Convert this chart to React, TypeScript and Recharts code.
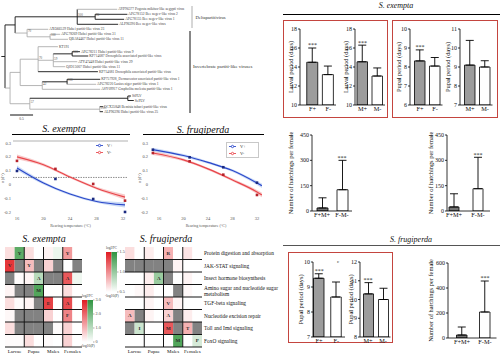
import React from 'react';
import {
  ComposedChart, Bar, Cell, XAxis, YAxis, ErrorBar, ReferenceDot, ReferenceLine,
  ReferenceArea, Line, Area, Scatter, Legend,
} from 'recharts';

const SERIF = '"Liberation Serif", "Times New Roman", serif';

// ================= DATA =================
// --- phylogenetic tree (branch lengths, substitutions/site) ---
const treeIds = ['root','A','H','L1','H2','L2','L3','L4','B','L5','B2','L6','L7','C','D','E','L8','F','G','L9','L10','L11','L12','L13','I','J','L14','L15','L16','K','M','L17','L18','N','L19','L20'];
const treeParents = [null,'root','A','H','H','H2','H2','H','A','B','B','B2','B2','root','C','D','E','E','F','G','G','F','F','E','D','I','J','J','I','C','K','M','M','K','N','N'];
const treeLengths = [0,0.22,1.35,0.87,0.39,0.70,0.63,0.89,0.26,0.46,0.50,0.22,0.39,0.11,0.22,0.39,0.43,0.33,0.41,0.17,0.35,0.52,0.26,1.30,0.48,0.54,0.72,0.63,1.26,0.43,2.13,0.07,0.13,1.52,0.07,0.07];
const treeDark = [1,1,1,0,1,1,1,1,0,0,0,0,0,0,0,0,0,0,1,1,1,0,0,1,0,1,1,0,0,0,1,1,1,0,1,1];
const treeLeafIds = ['L1','L2','L3','L4','L5','L6','L7','L8','L9','L10','L11','L12','L13','L14','L15','L16','L17','L18','L19','L20'];
const treeLeafRows = [9.3,14.3,19.3,24.3,29.3,34.3,39.3,46.7,51.7,56,61.7,66.7,71.7,79.3,84.3,89.3,96,100.5,106.7,111.7];
const treeLeafLabels = [
  'AYP96377 Pogosta mikitus-like aegypti virus',
  'APG78152 Bee negev-like virus 2',
  'APG78155 Bee negev-like virus 1',
  'ALP96390 Bee negev-like virus',
  'AXO66529 Hubei partiti-like virus 23',
  'APG78269 Hubei partiti-like virus 31',
  'QBA84467 Hubei partiti-like virus 11',
  'KT191',
  'APG78211 Hubei partiti-like virus 9',
  'KP714087 Drosophila associated partiti-like virus',
  'ATY47448 Hubei partiti-like virus 29',
  'QJD15007 Hubei partiti-like virus 11',
  'KP714081 Drosophila associated partiti-like virus',
  'KP757928_Dermacentor associated partiti-like virus 1',
  'APG78220 Lasius niger partiti-like virus 1',
  'ASY09917 Grapholita molesta partiti-like virus 1',
  'SfPLV',
  'SePLV',
  'QCX35848 Bemisia tabaci partiti-like virus',
  'ALP96396 Hubei partiti-like virus 25',
];
const treeSupportIds = ['H','H2','B','B2','E','F','G','I','J','K','M','N'];
const treeSupportVals = ['100','96','70','100','70','59','100','42','100','57','1','100'];
const cladeNames = ['Deltapartitivirus', 'Invertebrate partiti-like viruses'];

// --- thermal performance curves ---
const tempTicks = [16, 20, 24, 28, 32];
const rTicks = [-0.2, -0.1, 0, 0.1, 0.2, 0.3];
const seriesNames = ['V-', 'V+'];
const exFitX = [16, 20, 24, 28, 32.3];
const exRedFit = [0.199, 0.142, 0.053, -0.028, -0.093];
const exRedLo = [0.182, 0.131, 0.044, -0.038, -0.112];
const exRedHi = [0.216, 0.153, 0.062, -0.018, -0.074];
const exBlueFit = [0.119, 0.01, -0.07, -0.124, -0.149];
const exBlueLo = [0.102, -0.001, -0.079, -0.134, -0.168];
const exBlueHi = [0.136, 0.021, -0.061, -0.114, -0.13];
const exPtX = [16, 21.8, 27.5, 32.3];
const exRedPts = [0.17, 0.112, 0.003, -0.118];
const exBluePts = [0.097, 0.039, -0.106, -0.2];

const sfFitX = [15, 20, 24, 28, 32, 32.8];
const sfRedFit = [0.227, 0.177, 0.112, 0.032, -0.055, -0.077];
const sfRedLo = [0.213, 0.167, 0.103, 0.022, -0.069, -0.093];
const sfRedHi = [0.241, 0.187, 0.121, 0.042, -0.041, -0.061];
const sfBlueFit = [0.252, 0.209, 0.159, 0.1, 0.01, -0.01];
const sfBlueLo = [0.238, 0.199, 0.15, 0.09, -0.004, -0.026];
const sfBlueHi = [0.266, 0.219, 0.168, 0.11, 0.024, 0.006];
const sfPtX = [15, 21, 26.5, 32];
const sfRedPts = [0.227, 0.167, 0.07, -0.077];
const sfBluePts = [0.251, 0.196, 0.124, 0.012];

// --- heatmaps ---
const hmGroups = ['Larvae', 'Pupae', 'Males', 'Females'];
const hmRows = [
  'Protein digestion and absorption',
  'JAK-STAT signaling',
  'Insect hormone biosynthesis',
  'Amino sugar and nucleotide sugar\nmetabolism',
  'TGF-beta signaling',
  'Nucleotide excision repair',
  'Toll and Imd signaling',
  'FoxO signaling',
];
const exemptaHeat = [
  [0.15, -0.8, 0.15, 0, 0.05, -0.1, 0.45, 0],
  [0.9, null, 0.3, null, 0.2, null, 0, null],
  [null, 0.02, 0.05, -0.35, null, null, 0.75, -0.08],
  [0.05, null, null, -0.85, 0, 0, 0.15, 0],
  [0.15, 0.02, 0.05, null, 0.85, 0, 0.8, 0],
  [0.03, null, null, null, 0.2, 0, 0.55, 0],
  [0.15, null, null, null, null, 0.02, 0.2, 0],
  [0.02, 0.02, 0.15, 0, 0.02, 0, 0.2, 0],
];
const exemptaMarks = [
  ['', 'Y', '', '', '', '', 'Y', ''],
  ['V', '', 'Y', '', '', '', '', ''],
  ['', '', '', 'A', '', '', 'A', ''],
  ['', '', '', 'M', '', '', '', ''],
  ['', '', '', '', 'E', '', 'A', ''],
  ['', '', '', '', '', '', 'F', ''],
  ['', '', '', '', '', '', '', ''],
  ['', '', '', '', '', '', '', ''],
];
const frugHeat = [
  [0.15, 0, 0.08, 0, 0.35, 0, 0.12, 0],
  [null, null, null, null, null, 0.05, 0, 0],
  [0, 0, 0.08, -0.5, null, 0, 0.05, 0],
  [0, 0.03, 0.08, 0, 0, null, 0.03, 0],
  [0, 0, 0.05, 0, 0.3, 0.05, 0, 0],
  [0.3, null, 0.05, 0, 0.2, null, 0.08, 0],
  [null, -0.25, 0, 0, 0.75, null, 0.35, null],
  [0, 0, 0, 0, 0, -0.85, 0, -0.2],
];
const frugMarks = [
  ['', '', '', '', 'R', '', '', ''],
  ['', '', '', '', '', '', '', ''],
  ['', '', '', 'A', '', '', '', ''],
  ['', '', '', '', '', '', '', ''],
  ['', '', '', '', 'V', '', '', ''],
  ['A', '', '', '', 'A', '', '', ''],
  ['', 'I', '', '', 'M', '', 'T', ''],
  ['', '', '', '', '', 'M', '', 'P'],
];
const scaleATicks = [0, 1, 2, 3];
const scaleBTicks = [0.5, 1, 1.5];

// --- bar charts ---
const catsF = ['F+', 'F-'];
const catsM = ['M+', 'M-'];
const catsFM = ['F+M+', 'F-M-'];
const exLarvalFMean = [14.5, 13.2];
const exLarvalFSd = [1.5, 0.9];
const exLarvalMMean = [14.55, 13.05];
const exLarvalMSd = [1.75, 0.85];
const exPupalFMean = [8.32, 8.05];
const exPupalFSd = [0.58, 0.45];
const exPupalMMean = [9.1, 9.0];
const exPupalMSd = [1.3, 0.33];
const exHatchAMean = [18, 126];
const exHatchASd = [60, 174];
const exHatchBMean = [24, 132];
const exHatchBSd = [78, 186];
const sfPupalFMean = [9.35, 8.6];
const sfPupalFSd = [0.18, 0.6];
const sfPupalMMean = [10.3, 10.0];
const sfPupalMSd = [0.6, 0.6];
const sfHatchMean = [24, 208];
const sfHatchSd = [64, 248];

// ================= HELPERS =================
const GREY = '#9c9c9c';
const DARKGREY = '#747474';
const RED_BOX = '#c4453f';

const textLabel = (value: string, o: any = {}) => (props: any) => {
  const vb = props.viewBox || { x: 0, y: 0, width: 0, height: 0 };
  const cx = (vb.x || 0) + (vb.width || 0) / 2;
  const cy = (vb.y || 0) + (vb.height || 0) / 2;
  return (
    <text x={cx + (o.dx || 0)} y={cy + (o.dy || 0)} fontSize={o.size || 5} fill={o.fill || '#222'}
      textAnchor={o.anchor || 'start'} dominantBaseline="central" fontFamily={SERIF}
      fontStyle={o.italic ? 'italic' : 'normal'} fontWeight={o.weight || 'normal'}>{value}</text>
  );
};

const yLabelFn = (text: string, fs: number, dx = 4) => (props: any) => {
  const vb = props.viewBox || { x: 0, y: 0, width: 0, height: 0 };
  const x = (vb.x || 0) + dx;
  const y = (vb.y || 0) + (vb.height || 0) / 2;
  return (
    <text x={0} y={0} transform={`translate(${x},${y}) rotate(-90)`} textAnchor="middle"
      dominantBaseline="central" fontSize={fs} fontFamily={SERIF} fill="#111">{text}</text>
  );
};

const Title = ({ x, y, text, size }: any) => (
  <div style={{ position: 'absolute', left: x - 70, top: y - size * 0.65, width: 140, textAlign: 'center',
    fontStyle: 'italic', fontSize: size, lineHeight: `${size * 1.3}px`, fontFamily: SERIF, color: '#111' }}>{text}</div>
);
const HLine = ({ x1, x2, y, color = '#000', w = 1 }: any) => (
  <div style={{ position: 'absolute', left: x1, top: y, width: x2 - x1, height: w, background: color }} />
);
const Box = ({ x, y, w, h }: any) => (
  <div style={{ position: 'absolute', left: x, top: y, width: w, height: h, border: `1px solid ${RED_BOX}`, boxSizing: 'border-box' }} />
);
const SmallText = ({ x, y, text, size = 3.6 }: any) => (
  <div style={{ position: 'absolute', left: x, top: y, fontSize: size, lineHeight: `${size + 1}px`, fontFamily: SERIF, color: '#333', whiteSpace: 'nowrap' }}>{text}</div>
);

// ================= TREE =================
const TREE_PX = 46;
const TREE_W = 272;
const TREE_H = 122;

function TreeChart() {
  const x: Record<string, number> = {};
  const y: Record<string, number> = {};
  const children: Record<string, string[]> = {};
  treeIds.forEach((id, i) => {
    const p = treeParents[i];
    if (p) (children[p] = children[p] || []).push(id);
    x[id] = (p ? x[p] : 0) + treeLengths[i];
  });
  treeLeafIds.forEach((id, i) => { y[id] = treeLeafRows[i]; });
  const getY = (id: string): number => {
    if (y[id] !== undefined) return y[id];
    const ys = children[id].map(getY);
    y[id] = (Math.min(...ys) + Math.max(...ys)) / 2;
    return y[id];
  };
  getY('root');
  const segs: any[] = [];
  treeIds.forEach((id, i) => {
    const p = treeParents[i];
    const dark = treeDark[i] === 1;
    if (p) segs.push({ a: { x: x[p], y: y[id] }, b: { x: x[id], y: y[id] }, dark });
    if (children[id]) {
      const ys = children[id].map((c) => y[c]);
      segs.push({ a: { x: x[id], y: Math.min(...ys) }, b: { x: x[id], y: Math.max(...ys) }, dark });
    }
  });
  segs.push({ a: { x: -0.08, y: y.root }, b: { x: 0, y: y.root }, dark: true });
  const leafData = treeLeafIds.map((id, i) => ({ x: x[id], y: y[id], label: treeLeafLabels[i] }));
  const X0 = -5 / TREE_PX;
  const X1 = X0 + TREE_W / TREE_PX;
  const bx1 = (192 - 5) / TREE_PX;
  const bx2 = (190 - 5) / TREE_PX;
  return (
    <div style={{ position: 'absolute', left: 0, top: 0 }}>
      <ComposedChart width={TREE_W} height={TREE_H} margin={{ top: 0, right: 0, bottom: 0, left: 0 }}>
        <XAxis type="number" dataKey="x" domain={[X0, X1]} allowDataOverflow hide />
        <YAxis type="number" dataKey="y" domain={[0, TREE_H]} allowDataOverflow reversed hide />
        <Scatter data={leafData} shape={() => <g />} isAnimationActive={false} />
        {segs.map((s, i) => (
          <ReferenceLine key={`s${i}`} segment={[s.a, s.b]} stroke={s.dark ? '#111' : '#a3a3a3'} strokeWidth={s.dark ? 0.9 : 0.8} ifOverflow="visible" />
        ))}
        {leafData.map((d, i) => (
          <ReferenceDot key={`l${i}`} x={d.x} y={d.y} r={0} fill="none" stroke="none" ifOverflow="visible"
            label={textLabel(d.label, { dx: 1, size: 3.6, fill: '#444' })} />
        ))}
        {treeSupportIds.map((id, i) => (
          <ReferenceDot key={`b${i}`} x={x[id]} y={y[id]} r={0} fill="none" stroke="none" ifOverflow="visible"
            label={textLabel(treeSupportVals[i], { dx: 0.8, dy: -1.6, size: 3.2, fill: '#555' })} />
        ))}
        <ReferenceLine segment={[{ x: bx1, y: 6 }, { x: bx1, y: 28 }]} stroke="#999" strokeWidth={0.8} ifOverflow="visible" />
        <ReferenceLine segment={[{ x: bx2, y: 31 }, { x: bx2, y: 113 }]} stroke="#111" strokeWidth={1} ifOverflow="visible" />
        <ReferenceDot x={bx1} y={17} r={0} fill="none" stroke="none" ifOverflow="visible" label={textLabel(cladeNames[0], { dx: 3.5, size: 4.6, fill: '#333' })} />
        <ReferenceDot x={bx2} y={66} r={0} fill="none" stroke="none" ifOverflow="visible" label={textLabel(cladeNames[1], { dx: 3, size: 4.8, fill: '#333' })} />
        <ReferenceLine segment={[{ x: 0.11, y: 115 }, { x: 0.61, y: 115 }]} stroke="#111" strokeWidth={1} ifOverflow="visible" />
        <ReferenceDot x={0.36} y={119} r={0} fill="none" stroke="none" ifOverflow="visible" label={textLabel('0.5', { size: 3.6, anchor: 'middle', fill: '#444' })} />
      </ComposedChart>
    </div>
  );
}

// ================= LINE CHARTS =================
const sq = (color: string) => (p: any) => (
  <rect x={p.cx - 1.3} y={p.cy - 1.3} width={2.6} height={2.6} fill={color} />
);

function TempChart(props: any) {
  const { left, top, width, height, yAxisW, rightM, topM, xDomain, yDomain, fitX, redFit, redLo, redHi,
    blueFit, blueLo, blueHi, ptX, redPts, bluePts, topLine, dashY, legendPos, legendBox } = props;
  const redBand = fitX.map((x: number, i: number) => ({ x, band: [redLo[i], redHi[i]] }));
  const blueBand = fitX.map((x: number, i: number) => ({ x, band: [blueLo[i], blueHi[i]] }));
  const redLine = fitX.map((x: number, i: number) => ({ x, y: redFit[i] }));
  const blueLine = fitX.map((x: number, i: number) => ({ x, y: blueFit[i] }));
  const redP = ptX.map((x: number, i: number) => ({ x, y: redPts[i] }));
  const blueP = ptX.map((x: number, i: number) => ({ x, y: bluePts[i] }));
  const tickStyle = { fontSize: 4.5, fill: '#555', fontFamily: SERIF };
  return (
    <div style={{ position: 'absolute', left, top }}>
      <ComposedChart width={width} height={height} margin={{ top: topM, right: rightM, bottom: 0, left: 0 }}>
        <XAxis type="number" dataKey="x" domain={xDomain} ticks={tempTicks} allowDataOverflow axisLine={false}
          tickLine={false} tickSize={0} tickMargin={2} height={15} tick={tickStyle} interval={0}
          label={textLabel('Rearing temperature (°C)', { size: 4, anchor: 'middle', dy: 3, fill: '#555' })} />
        <YAxis type="number" dataKey="y" domain={yDomain} ticks={rTicks} allowDataOverflow width={yAxisW}
          axisLine={false} tickLine={false} tickSize={0} tickMargin={2} tick={tickStyle} interval={0}
          tickFormatter={(v: number) => (v === 0 ? '0' : v.toFixed(1))}
          label={yLabelFn('r (d⁻¹)', 4, 2.5)} />
        {topLine ? <ReferenceLine y={yDomain[1]} stroke="#a8a8a8" strokeWidth={0.9} ifOverflow="visible" /> : null}
        {dashY !== undefined ? <ReferenceLine y={dashY} stroke="#444" strokeWidth={0.6} strokeDasharray="1.5 1" ifOverflow="visible" /> : null}
        <Area data={redBand} dataKey="band" type="monotone" stroke="none" fill="#f5b8b8" fillOpacity={0.75} isAnimationActive={false} legendType="none" />
        <Area data={blueBand} dataKey="band" type="monotone" stroke="none" fill="#b8cdf3" fillOpacity={0.75} isAnimationActive={false} legendType="none" />
        <Line data={redLine} dataKey="y" name={seriesNames[0]} type="monotone" stroke="#e8454a" strokeWidth={1.2} dot={false} isAnimationActive={false} legendType="line" />
        <Line data={blueLine} dataKey="y" name={seriesNames[1]} type="monotone" stroke="#2a47c9" strokeWidth={1.2} dot={false} isAnimationActive={false} legendType="line" />
        <Scatter data={redP} shape={sq('#b5232b')} isAnimationActive={false} legendType="none" />
        <Scatter data={blueP} shape={sq('#1b2a80')} isAnimationActive={false} legendType="none" />
        <Legend layout="vertical" align="center" verticalAlign="middle" iconType="line" iconSize={7}
          wrapperStyle={{ left: legendPos[0], top: legendPos[1], width: 'auto', fontSize: 4.5, lineHeight: '6px', fontFamily: SERIF,
            ...(legendBox ? { border: '0.5px solid #c8c8c8', padding: '0px 2px', background: '#fff' } : {}) }}
          formatter={(v: any) => <span style={{ color: '#333', fontSize: 4.5 }}>{v}</span>} />
      </ComposedChart>
    </div>
  );
}

// ================= HEATMAPS =================
function heatColor(v: number | null) {
  if (v === null) return '#828282';
  const t = Math.min(1, Math.abs(v));
  const base = v >= 0 ? [226, 32, 36] : [52, 150, 62];
  const m = (c: number) => Math.round(255 + (c - 255) * t);
  return `rgb(${m(base[0])},${m(base[1])},${m(base[2])})`;
}

const RowTick = (props: any) => {
  const { x, y, payload } = props;
  const idx = Math.floor(payload.value);
  const lines = (hmRows[idx] || '').split('\n');
  return (
    <text x={x} y={y} fontSize={5.4} fontFamily={SERIF} fill="#111" textAnchor="start">
      {lines.map((l, i) => (
        <tspan key={i} x={x + 1} dy={i === 0 ? (lines.length === 1 ? 1.9 : -1.2) : 6.2}>{l}</tspan>
      ))}
    </text>
  );
};

const GRID_W = 77;
const GRID_H = 100;

function Heatmap({ left, top, values, marks, showRows }: any) {
  const cells: any[] = [];
  values.forEach((row: any[], r: number) => row.forEach((v: any, c: number) => cells.push({ x: c + 0.5, y: r + 0.5, v, m: marks[r][c], r, c })));
  const rightW = showRows ? 82 : 0;
  return (
    <div style={{ position: 'absolute', left, top }}>
      <ComposedChart width={GRID_W + rightW} height={GRID_H + 11} margin={{ top: 0, right: 0, bottom: 0, left: 0 }}>
        <XAxis type="number" dataKey="x" domain={[0, 8]} ticks={[1, 3, 5, 7]} allowDataOverflow interval={0}
          tickFormatter={(v: number) => hmGroups[(v - 1) / 2]} height={11} tickLine={false}
          axisLine={{ stroke: '#000', strokeWidth: 0.9 }} tick={{ fontSize: 5, fontFamily: SERIF, fill: '#111' }} tickSize={0} tickMargin={2} />
        <YAxis type="number" dataKey="y" domain={[0, 8]} reversed allowDataOverflow hide={!showRows} orientation="right"
          width={rightW} ticks={[0.5, 1.5, 2.5, 3.5, 4.5, 5.5, 6.5, 7.5]} tick={<RowTick />} axisLine={false}
          tickLine={false} tickSize={0} tickMargin={1} interval={0} />
        <Scatter data={cells} shape={() => <g />} isAnimationActive={false} />
        {cells.map((cell, i) => (
          <ReferenceArea key={`c${i}`} x1={cell.c} x2={cell.c + 1} y1={cell.r} y2={cell.r + 1} fill={heatColor(cell.v)}
            fillOpacity={1} stroke="none" ifOverflow="visible"
            label={cell.m ? textLabel(cell.m, { size: 5, anchor: 'middle', fill: '#2a2a2a', weight: 'bold' }) : undefined} />
        ))}
        {[1, 2, 3, 4, 5, 6, 7].map((yy) => (
          <ReferenceLine key={`h${yy}`} y={yy} stroke="#151515" strokeWidth={1} ifOverflow="visible" />
        ))}
        {[2, 4, 6].map((xx) => (
          <ReferenceLine key={`v${xx}`} x={xx} stroke="#151515" strokeWidth={1} ifOverflow="visible" />
        ))}
      </ComposedChart>
    </div>
  );
}

function ColorScale({ left, top, height, id, ticks }: any) {
  const dom = [ticks[0], ticks[ticks.length - 1]];
  return (
    <div style={{ position: 'absolute', left, top: top - 4 }}>
      <ComposedChart width={11 + 22} height={height + 8} margin={{ top: 4, right: 0, bottom: 4, left: 0 }}>
        <defs>
          <linearGradient id={`${id}r`} x1="0" y1="0" x2="0" y2="1">
            <stop offset="0%" stopColor="#e01b22" />
            <stop offset="100%" stopColor="#ffffff" />
          </linearGradient>
          <linearGradient id={`${id}g`} x1="0" y1="0" x2="0" y2="1">
            <stop offset="0%" stopColor="#2f9440" />
            <stop offset="100%" stopColor="#ffffff" />
          </linearGradient>
        </defs>
        <XAxis type="number" dataKey="x" domain={[0, 2]} allowDataOverflow hide />
        <YAxis type="number" dataKey="y" domain={dom} ticks={ticks} allowDataOverflow orientation="right" width={22}
          axisLine={false} tickLine={{ stroke: '#555', strokeWidth: 0.5 }} tickSize={1.5} tickMargin={1} interval={0}
          tick={{ fontSize: 4.2, fill: '#444', fontFamily: SERIF }} tickFormatter={(v: number) => (v === 0 ? '0' : v.toFixed(1))} />
        <Scatter data={[{ x: 0, y: dom[0] }]} shape={() => <g />} isAnimationActive={false} />
        <ReferenceArea x1={0} x2={1} y1={dom[0]} y2={dom[1]} fill={`url(#${id}r)`} fillOpacity={1} stroke="none" ifOverflow="visible" />
        <ReferenceArea x1={1} x2={2} y1={dom[0]} y2={dom[1]} fill={`url(#${id}g)`} fillOpacity={1} stroke="none" ifOverflow="visible" />
      </ComposedChart>
    </div>
  );
}

// ================= BAR PANELS =================
function BarPanel(p: any) {
  const left = p.labelX - 4;
  const mTop = 9;
  const xAxisH = 11;
  const width = p.right - left + 1;
  const height = p.bottom - p.top + mTop + xAxisH;
  const data = p.cats.map((c: string, i: number) => ({ name: c, mean: p.means[i], err: [0, p.errs[i]] }));
  return (
    <div style={{ position: 'absolute', left, top: p.top - mTop }}>
      <ComposedChart width={width} height={height} data={data} margin={{ top: mTop, right: 1, bottom: 0, left: 0 }}>
        <XAxis dataKey="name" type="category" height={xAxisH} padding={{ left: p.padL, right: 0 }} tickLine={false}
          axisLine={{ stroke: '#000', strokeWidth: 0.8 }} tick={{ fontSize: 6.3, fill: '#111', fontFamily: SERIF }}
          tickSize={0} tickMargin={2} interval={0} />
        <YAxis type="number" width={p.axisX - left} domain={p.domain} ticks={p.ticks} allowDataOverflow tickSize={2}
          tickMargin={1} axisLine={{ stroke: '#000', strokeWidth: 0.8 }} tickLine={{ stroke: '#000', strokeWidth: 0.8 }}
          tick={{ fontSize: 6, fill: '#111', fontFamily: SERIF }} interval={0} label={yLabelFn(p.ylabel, 6.4)} />
        <Bar dataKey="mean" barSize={p.barSize} stroke="#000" strokeWidth={0.8} isAnimationActive={false}>
          {p.fills.map((f: string, i: number) => <Cell key={i} fill={f} />)}
          <ErrorBar dataKey="err" width={4} strokeWidth={0.9} stroke="#000" direction="y" />
        </Bar>
        {p.cats.map((c: string, i: number) => (p.stars[i] ? (
          <ReferenceDot key={c} x={c} y={p.means[i] + p.errs[i]} r={0} fill="none" stroke="none" ifOverflow="visible"
            label={textLabel('***', { size: 6, anchor: 'middle', dy: -2.6 })} />
        ) : null))}
      </ComposedChart>
    </div>
  );
}

// ================= APP =================
export default function App() {
  const yDom = [-0.222, 0.314];
  return (
    <div style={{ position: 'absolute', left: 0, top: 0, width: 500, height: 356, background: '#fff', overflow: 'hidden', fontFamily: SERIF }}>
      <TreeChart />

      {/* thermal curves */}
      <Title x={64} y={128} text="S. exempta" size={10} />
      <HLine x1={12} x2={130} y={134} />
      <Title x={203} y={129} text="S. frugiperda" size={10} />
      <HLine x1={143} x2={264} y={134} />
      <TempChart left={0} top={138} width={135} height={92} yAxisW={13} rightM={7} topM={3}
        xDomain={[15.4, 32.75]} yDomain={yDom} fitX={exFitX} redFit={exRedFit} redLo={exRedLo} redHi={exRedHi}
        blueFit={exBlueFit} blueLo={exBlueLo} blueHi={exBlueHi} ptX={exPtX} redPts={exRedPts} bluePts={exBluePts}
        topLine dashY={0.05} legendPos={[96, 4]} />
      <TempChart left={137} top={138} width={130} height={92} yAxisW={13} rightM={5} topM={3}
        xDomain={[14.53, 32.82]} yDomain={yDom} fitX={sfFitX} redFit={sfRedFit} redLo={sfRedLo} redHi={sfRedHi}
        blueFit={sfBlueFit} blueLo={sfBlueLo} blueHi={sfBlueHi} ptX={sfPtX} redPts={sfRedPts} bluePts={sfBluePts}
        legendPos={[89, 4]} legendBox />

      {/* heatmaps */}
      <Title x={44} y={238} text="S. exempta" size={10} />
      <Title x={166} y={238} text="S. frugiperda" size={10} />
      <Heatmap left={5} top={247} values={exemptaHeat} marks={exemptaMarks} showRows={false} />
      <Heatmap left={124.5} top={247} values={frugHeat} marks={frugMarks} showRows />
      <SmallText x={82} y={294} text="log2FC" />
      <ColorScale left={81.5} top={300} height={42} id="sa" ticks={scaleATicks} />
      <SmallText x={81} y={344} text="-log10(P)" />
      <SmallText x={106} y={246} text="log2FC" />
      <ColorScale left={106} top={252} height={40} id="sb" ticks={scaleBTicks} />
      <SmallText x={105} y={294} text="-log10(P)" />

      {/* S. exempta bar charts */}
      <Title x={396} y={6} text="S. exempta" size={8} />
      <HLine x1={283} x2={500} y={14} />
      <Box x={283} y={20} w={105} h={98} />
      <Box x={392} y={20} w={106} h={98} />
      <BarPanel axisX={300} top={29} bottom={105} right={336} labelX={290} padL={4.75} barSize={11}
        domain={[10, 18]} ticks={[10, 12, 14, 16, 18]} cats={catsF} means={exLarvalFMean} errs={exLarvalFSd}
        stars={[true, false]} fills={[GREY, '#fff']} ylabel="Larval period (days)" />
      <BarPanel axisX={355} top={29} bottom={105} right={385} labelX={345} padL={0} barSize={10.5}
        domain={[10, 18]} ticks={[10, 12, 14, 16, 18]} cats={catsM} means={exLarvalMMean} errs={exLarvalMSd}
        stars={[true, false]} fills={[GREY, '#fff']} ylabel="Larval period (days)" />
      <BarPanel axisX={410} top={29} bottom={105} right={442.5} labelX={398} padL={2.5} barSize={10.5}
        domain={[6, 10]} ticks={[6, 7, 8, 9, 10]} cats={catsF} means={exPupalFMean} errs={exPupalFSd}
        stars={[true, false]} fills={[GREY, '#fff']} ylabel="Pupal period (days)" />
      <BarPanel axisX={460} top={29} bottom={105} right={492.5} labelX={447} padL={2.5} barSize={10.5}
        domain={[7, 11]} ticks={[7, 8, 9, 10, 11]} cats={catsM} means={exPupalMMean} errs={exPupalMSd}
        stars={[false, false]} fills={[GREY, '#fff']} ylabel="Pupal period (days)" />
      <BarPanel axisX={312} top={135} bottom={211} right={352} labelX={290} padL={0} barSize={11}
        domain={[0, 450]} ticks={[0, 150, 300, 450]} cats={catsFM} means={exHatchAMean} errs={exHatchASd}
        stars={[false, true]} fills={[DARKGREY, '#fff']} ylabel="Number of hatchings per female" />
      <BarPanel axisX={447} top={135} bottom={211} right={490} labelX={430} padL={-5} barSize={10}
        domain={[0, 450]} ticks={[0, 150, 300, 450]} cats={catsFM} means={exHatchBMean} errs={exHatchBSd}
        stars={[false, true]} fills={[DARKGREY, '#fff']} ylabel="Number of hatchings per female" />

      {/* S. frugiperda bar charts */}
      <Title x={411} y={240} text="S. frugiperda" size={8} />
      <HLine x1={283} x2={500} y={245} color="#555" />
      <Box x={288} y={252} w={105} h={91} />
      <SmallText x={337} y={259} text="c" size={5} />
      <BarPanel axisX={313} top={262} bottom={337} right={345} labelX={300} padL={-2.5} barSize={10.5}
        domain={[7, 10]} ticks={[7, 8, 9, 10]} cats={catsF} means={sfPupalFMean} errs={sfPupalFSd}
        stars={[true, false]} fills={[GREY, '#fff']} ylabel="Pupal period (days)" />
      <BarPanel axisX={360} top={262} bottom={337} right={390.5} labelX={350} padL={0.5} barSize={10}
        domain={[8, 12]} ticks={[8, 9, 10, 11, 12]} cats={catsM} means={sfPupalMMean} errs={sfPupalMSd}
        stars={[true, false]} fills={[GREY, '#fff']} ylabel="Pupal period (days)" />
      <BarPanel axisX={448} top={263} bottom={338} right={496.5} labelX={430} padL={2.5} barSize={10.5}
        domain={[0, 600]} ticks={[0, 200, 400, 600]} cats={catsFM} means={sfHatchMean} errs={sfHatchSd}
        stars={[false, true]} fills={[DARKGREY, '#fff']} ylabel="Number of hatchings per female" />
    </div>
  );
}
